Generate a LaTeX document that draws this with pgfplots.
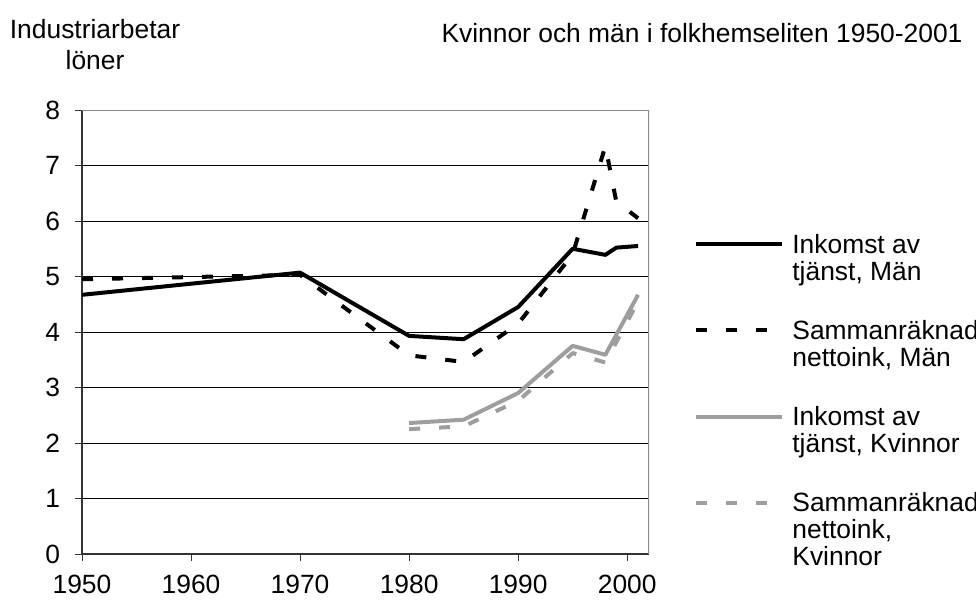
\documentclass[border=0pt]{standalone}
\usepackage{pgfplots}
\pgfplotsset{compat=1.18}
\usepackage{fontspec}
\setmainfont{Liberation Sans}
\definecolor{lgray}{gray}{0.62}
\definecolor{fgray}{gray}{0.55}
\newcommand{\ff}{\fontsize{13.2bp}{13.5bp}\selectfont}
\begin{document}
\begin{tikzpicture}
\useasboundingbox (0,0) rectangle (488bp,302bp);
\node[font=\ff, align=center] at (47.5bp,279.5bp) {Industriarbetar\\[2bp]löner};
\node[font=\ff] at (351bp,285.5bp) {Kvinnor och män i folkhemseliten 1950-2001};
\begin{axis}[
  at={(41bp,25bp)}, anchor=south west,
  scale only axis, width=283.5bp, height=222bp,
  xmin=1950, xmax=2002, ymin=0, ymax=8,
  xtick={1950,1960,...,2000}, ytick={0,1,...,8},
  axis lines*=left,
  axis line style={line width=0.6bp, black!80},
  tick style={line width=0.5bp, black!80},
  tick align=outside, major tick length=3.5bp,
  ymajorgrids, grid style={line width=0.5bp, black},
  /pgf/number format/assume math mode=true,
  ticklabel style={font=\ff},
  xticklabel style={/pgf/number format/1000 sep={}, yshift=-6bp, inner sep=1bp},
  yticklabel style={xshift=-4bp},
  legend style={draw=none, fill=none, at={(1.0794,0.7306)}, anchor=north west,
    cells={anchor=base west}, inner sep=0pt, column sep=2bp, row sep=28bp, font=\ff},
  legend image code/.code={\draw[#1, line cap=butt] (0bp,4.4bp) -- (43bp,4.4bp);},
]
\addplot[black, line width=2bp, line join=round] coordinates {
(1950,4.67) (1970,5.07) (1980,3.93) (1985,3.87) (1990,4.45) (1995,5.50) (1998,5.39) (1999,5.52) (2001,5.55)};
\addlegendentry{\begin{tabular}[t]{@{}l@{}}Inkomst av\\tjänst, Män\end{tabular}}
\addplot[black, line width=2bp, dash pattern=on 5.5bp off 9.5bp, line join=round] coordinates {
(1950,4.95) (1970,5.03) (1980,3.58) (1985,3.46) (1990,4.15) (1995,5.40) (1998,7.35) (1999,6.35) (2001,6.05)};
\addlegendentry{\begin{tabular}[t]{@{}l@{}}Sammanräknad\\nettoink, Män\end{tabular}}
\addplot[lgray, line width=2bp, line join=round] coordinates {
(1980,2.36) (1985,2.42) (1990,2.90) (1995,3.75) (1998,3.59) (2001,4.67)};
\addlegendentry{\begin{tabular}[t]{@{}l@{}}Inkomst av\\tjänst, Kvinnor\end{tabular}}
\addplot[lgray, line width=2bp, dash pattern=on 5.5bp off 9.5bp, line join=round] coordinates {
(1980,2.25) (1985,2.30) (1990,2.76) (1995,3.62) (1998,3.45) (2001,4.55)};
\addlegendentry{\begin{tabular}[t]{@{}l@{}}Sammanräknad\\nettoink,\\Kvinnor\end{tabular}}
\draw[fgray, line width=0.8bp] (rel axis cs:0,1) -- (rel axis cs:1,1) -- (rel axis cs:1,0);
\end{axis}
\end{tikzpicture}
\end{document}
